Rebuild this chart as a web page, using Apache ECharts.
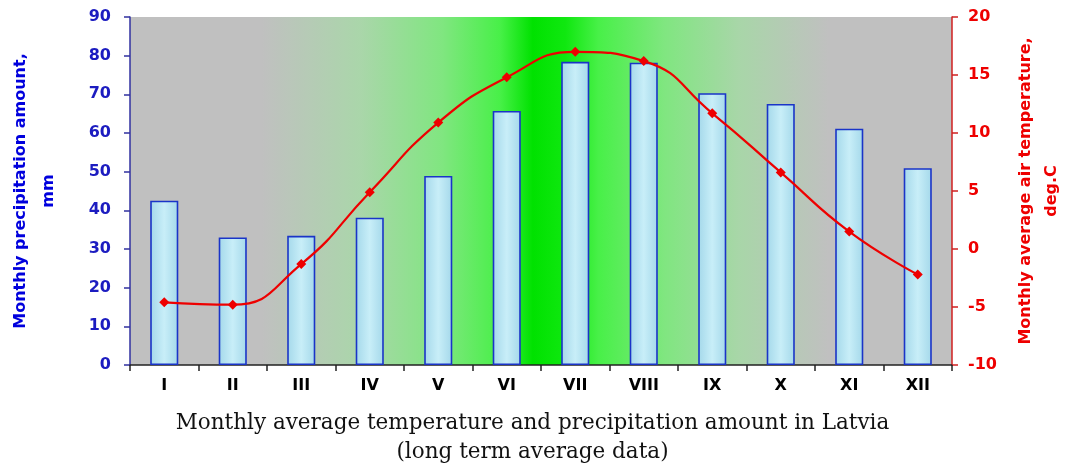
<!DOCTYPE html>
<html><head><meta charset="utf-8">
<script src="https://cdn.jsdelivr.net/npm/echarts@6/dist/echarts.min.js"></script>
<style>html,body{margin:0;padding:0;background:#fff}#c{width:1065px;height:463px}</style>
</head><body><div id="c"></div>
<script>
const months = ['I','II','III','IV','V','VI','VII','VIII','IX','X','XI','XII'];
const precipitation = [42.5, 33.0, 33.4, 38.1, 48.9, 65.7, 78.4, 78.2, 70.3, 67.5, 61.1, 50.9];
const temperature = [-4.6, -4.8, -1.3, 4.9, 10.9, 14.8, 17.0, 16.2, 11.7, 6.6, 1.5, -2.2];
const precipTicks = {min: 0, max: 90, interval: 10};
const tempTicks = {min: -10, max: 20, interval: 5};

const chart = echarts.init(document.getElementById('c'));
const bgGrad = new echarts.graphic.LinearGradient(0, 0, 1, 0, [
  {offset: 0, color: '#c0c0c0'},
  {offset: 0.16, color: '#c0c0c0'},
  {offset: 0.28, color: '#aad6aa'},
  {offset: 0.38, color: '#80e680'},
  {offset: 0.45, color: '#48f048'},
  {offset: 0.49, color: '#00e200'},
  {offset: 0.53, color: '#10e810'},
  {offset: 0.57, color: '#48f048'},
  {offset: 0.65, color: '#80e680'},
  {offset: 0.74, color: '#a8d6a8'},
  {offset: 0.85, color: '#c0c0c0'},
  {offset: 1, color: '#c0c0c0'}
]);
const barGrad = new echarts.graphic.LinearGradient(0, 0, 1, 0, [
  {offset: 0, color: '#a4d8ea'},
  {offset: 0.5, color: '#c8eef8'},
  {offset: 1, color: '#a4d8ea'}
]);
const sansB = 'DejaVu Sans, sans-serif';
chart.setOption({
  animation: false,
  textStyle: {fontFamily: sansB},
  title: {
    text: 'Monthly average temperature and precipitation amount in Latvia\n(long term average data)',
    left: 'center', top: 404,
    textStyle: {fontFamily: 'DejaVu Serif, serif', fontWeight: 'normal', fontSize: 21.5, lineHeight: 29, color: '#111'}
  },
  grid: {left: 130, right: 113, top: 17, bottom: 98, show: true, backgroundColor: bgGrad, borderWidth: 0,
         containLabel: false, outerBoundsMode: 'none'},
  xAxis: {
    type: 'category', data: months,
    axisLine: {lineStyle: {color: '#222', width: 1.5}},
    axisTick: {show: true, length: 6, lineStyle: {color: '#222', width: 1.5}},
    axisLabel: {color: '#000', fontWeight: 'bold', fontSize: 16, margin: 13, fontFamily: sansB}
  },
  yAxis: [{
    type: 'value', position: 'left', min: precipTicks.min, max: precipTicks.max, interval: precipTicks.interval,
    name: 'Monthly precipitation amount,\nmm', nameLocation: 'middle', nameRotate: 90, nameGap: 67,
    nameTextStyle: {color: '#0000dd', fontWeight: 'bold', fontSize: 16, lineHeight: 28, fontFamily: sansB},
    axisLine: {show: true, lineStyle: {color: '#3030a0', width: 1.5}},
    axisTick: {show: true, length: 6, lineStyle: {color: '#3030a0', width: 1.5}},
    axisLabel: {color: '#1c1cc0', fontWeight: 'bold', fontSize: 16, margin: 19, fontFamily: sansB},
    splitLine: {show: false}
  }, {
    type: 'value', position: 'right', min: tempTicks.min, max: tempTicks.max, interval: tempTicks.interval,
    name: 'Monthly average air temperature,\ndeg.C', nameLocation: 'middle', nameRotate: 90, nameGap: 61,
    nameTextStyle: {color: '#ee0000', fontWeight: 'bold', fontSize: 16, lineHeight: 26, fontFamily: sansB},
    axisLine: {show: true, lineStyle: {color: '#d02020', width: 1.5}},
    axisTick: {show: true, length: 6, lineStyle: {color: '#d02020', width: 1.5}},
    axisLabel: {color: '#ee0000', fontWeight: 'bold', fontSize: 16, margin: 16, fontFamily: sansB},
    splitLine: {show: false}
  }],
  series: [{
    type: 'bar', data: precipitation, yAxisIndex: 0, barWidth: '41%',
    itemStyle: {color: barGrad, borderColor: '#1a34c8', borderWidth: 1.6}
  }, {
    type: 'line', data: temperature, yAxisIndex: 1, smooth: true,
    symbol: 'diamond', symbolSize: 10,
    lineStyle: {color: '#ee0000', width: 2.2},
    itemStyle: {color: '#ee0000'}
  }]
});
</script></body></html>
